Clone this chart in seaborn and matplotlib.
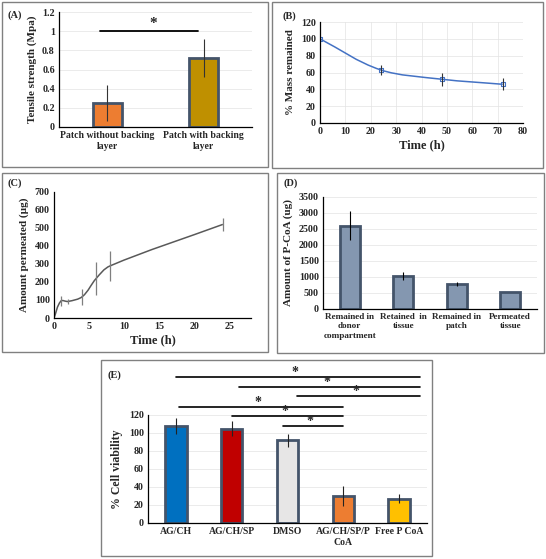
import numpy as np
import matplotlib
matplotlib.use("Agg")
import matplotlib.pyplot as plt
from matplotlib.patches import Rectangle, PathPatch
from matplotlib.path import Path
from matplotlib.ticker import FuncFormatter
import seaborn as sns

# (A) tensile strength
a_cats = ["Patch without backing\nlayer", "Patch with backing\nlayer"]
a_vals = [0.25, 0.72]
a_errs = [0.19, 0.20]
a_colors = ["#ED7D31", "#BF9000"]

# (B) degradation
b_time = [0, 24, 48, 72]
b_mass = [100, 63, 52, 46]
b_errs = [0, 6, 8, 7]

# (C) permeation profile
c_time = [0, 1, 2, 4, 6, 8, 24]
c_amount = [0, 95, 92, 118, 220, 290, 520]
c_errs = [0, 30, 15, 45, 90, 85, 37]

# (D) mass balance
d_cats = ["Remained in\ndonor\ncompartment", "Retained  in\ntissue", "Remained in\npatch", "Permeated\ntissue"]
d_vals = [2600, 1030, 780, 520]
d_errs = [450, 130, 50, 0]

# (E) cell viability
e_cats = ["AG/CH", "AG/CH/SP", "DMSO", "AG/CH/SP/P\nCoA", "Free P CoA"]
e_vals = [108, 105, 92, 30, 27]
e_errs = [9, 8, 7, 11, 5]
e_colors = ["#0070C0", "#C00000", "#E7E6E6", "#ED7D31", "#FFC000"]
# significance brackets: (start, end, height)
e_sig = [(0.0, 4.38, 162), (1.13, 4.38, 151), (2.17, 4.38, 141),
         (0.05, 3.0, 129), (1.0, 3.0, 119), (1.92, 3.0, 108)]

sns.set_theme(style="white")
plt.rcParams["font.family"] = ["Liberation Serif", "DejaVu Serif"]
plt.rcParams["font.weight"] = "bold"
plt.rcParams["axes.labelweight"] = "bold"

W, H = 546, 559
fig = plt.figure(figsize=(W / 100, H / 100), dpi=100)
EDGE = "#44546A"
TICK = 7.2
LAB = 8


def add_axes(l, r, t, b):
    return fig.add_axes([l / W, 1 - b / H, (r - l) / W, (b - t) / H])


def box(l, r, t, b, label, lx, ly):
    fig.patches.append(Rectangle((l / W, 1 - b / H), (r - l) / W, (b - t) / H,
                                 transform=fig.transFigure, fill=False,
                                 edgecolor="#808080", linewidth=1))
    fig.text(lx / W, 1 - ly / H, label, fontsize=7.5, fontweight="bold",
             va="center", ha="left")


def style(ax, grid_x=False, cat_size=None):
    for s in ["top", "right"]:
        ax.spines[s].set_visible(False)
    for s in ["left", "bottom"]:
        ax.spines[s].set_color("black")
        ax.spines[s].set_linewidth(0.9)
    ax.tick_params(length=0, labelsize=TICK, pad=3)
    if cat_size:
        ax.tick_params(axis="x", labelsize=cat_size)
    for lab in ax.get_xticklabels() + ax.get_yticklabels():
        lab.set_fontweight("bold")
    ax.set_axisbelow(True)
    ax.yaxis.grid(True, color="#E3E3E3", linewidth=0.5)
    if grid_x:
        ax.xaxis.grid(True, color="#E3E3E3", linewidth=0.5)


def smooth_line(ax, x, y, color, lw=1.1):
    # Excel-like smoothed line: cubic Bezier segments through the points
    sx = np.diff(ax.get_xlim())[0]
    sy = np.diff(ax.get_ylim())[0]
    p = np.column_stack([np.asarray(x, float) / sx, np.asarray(y, float) / sy])
    n = len(p)
    tang = []
    for i in range(n):
        d = p[min(i + 1, n - 1)] - p[max(i - 1, 0)]
        tang.append(d / np.linalg.norm(d))
    verts, codes = [p[0]], [Path.MOVETO]
    for i in range(n - 1):
        L = np.linalg.norm(p[i + 1] - p[i]) / 3
        verts += [p[i] + tang[i] * L, p[i + 1] - tang[i + 1] * L, p[i + 1]]
        codes += [Path.CURVE4] * 3
    verts = np.array(verts) * [sx, sy]
    ax.add_patch(PathPatch(Path(verts, codes), fill=False, edgecolor=color, linewidth=lw))


fmt = FuncFormatter(lambda v, p: f"{v:g}")

# ---- (A)
box(2, 268, 2, 167, "(A)", 7, 15)
ax = add_axes(59, 252, 12, 127)
sns.barplot(x=a_cats, y=a_vals, hue=a_cats, palette=a_colors, legend=False,
            width=0.3, edgecolor=EDGE, linewidth=2, saturation=1, ax=ax)
ax.errorbar(range(2), a_vals, yerr=a_errs, fmt="none", ecolor="#333333", elinewidth=0.8)
ax.set_ylim(0, 1.2)
ax.set_yticks(np.arange(0, 1.21, 0.2))
ax.yaxis.set_major_formatter(fmt)
ax.set_xlim(-0.5, 1.5)
ax.set_ylabel("Tensile strength (Mpa)", fontsize=LAB)
ax.plot([-0.07, 0.94], [1.0, 1.0], color="black", linewidth=1.3, clip_on=False)
ax.text(0.48, 1.08, "*", fontsize=11, ha="center", va="center", fontweight="bold")
style(ax, cat_size=7)

# ---- (B)
box(272, 543, 2, 168, "(B)", 282, 16)
ax = add_axes(320, 523, 22, 123)
ax.set_xlim(0, 80)
ax.set_ylim(0, 120)
smooth_line(ax, b_time, b_mass, "#4472C4")
sns.scatterplot(x=b_time, y=b_mass, marker="s", s=9, facecolor="none",
                edgecolor="#4472C4", linewidth=0.8, ax=ax)
ax.errorbar(b_time, b_mass, yerr=b_errs, fmt="none", ecolor="#333333", elinewidth=0.8)
ax.set_xlim(0, 80)
ax.set_ylim(0, 120)
ax.set_xticks(range(0, 81, 10))
ax.set_yticks(range(0, 121, 20))
ax.set_xlabel("Time (h)", fontsize=LAB + 1, labelpad=2)
ax.set_ylabel("% Mass remained", fontsize=LAB)
style(ax, grid_x=True)

# ---- (C)
box(2, 268, 173, 352, "(C)", 7, 183)
ax = add_axes(54, 251, 192, 318)
ax.set_xlim(0, 28)
ax.set_ylim(0, 700)
smooth_line(ax, c_time, c_amount, "#595959")
ax.errorbar(c_time, c_amount, yerr=c_errs, fmt="none", ecolor="#7F7F7F", elinewidth=0.9)
ax.set_xlim(0, 28)
ax.set_ylim(0, 700)
ax.set_xticks(range(0, 26, 5))
ax.set_yticks(range(0, 701, 100))
ax.set_xlabel("Time (h)", fontsize=LAB + 1, labelpad=2)
ax.set_ylabel("Amount permeated (µg)", fontsize=LAB)
style(ax)
ax.yaxis.grid(False)

# ---- (D)
box(277, 544, 173, 353, "(D)", 283, 183)
ax = add_axes(323, 537, 197, 309)
sns.barplot(x=d_cats, y=d_vals, color="#8497B0", width=0.37, saturation=1,
            edgecolor=EDGE, linewidth=2, ax=ax)
ax.errorbar(range(4), d_vals, yerr=d_errs, fmt="none", ecolor="black", elinewidth=0.8)
ax.set_ylim(0, 3500)
ax.set_yticks(range(0, 3501, 500))
ax.set_xlim(-0.5, 3.5)
ax.set_ylabel("Amount of P-CoA (ug)", fontsize=LAB)
style(ax, cat_size=6.6)

# ---- (E)
box(101, 432, 360, 556, "(E)", 107, 375)
ax = add_axes(148, 427, 415, 523)
sns.barplot(x=e_cats, y=e_vals, hue=e_cats, palette=e_colors, legend=False,
            width=0.38, edgecolor=EDGE, linewidth=2, saturation=1, ax=ax)
ax.errorbar(range(5), e_vals, yerr=e_errs, fmt="none", ecolor="#222222", elinewidth=0.8)
ax.set_ylim(0, 120)
ax.set_yticks(range(0, 121, 20))
ax.set_xlim(-0.5, 4.5)
ax.set_ylabel("% Cell viability", fontsize=LAB + 0.5)
for x0, x1, h in e_sig:
    ax.plot([x0, x1], [h, h], color="black", linewidth=1.2, clip_on=False)
    ax.text((x0 + x1) / 2 - 0.05, h + 5, "*", fontsize=10, ha="center",
            va="center", fontweight="bold", clip_on=False)
style(ax, cat_size=7)

fig.savefig("out.png", dpi=100)
